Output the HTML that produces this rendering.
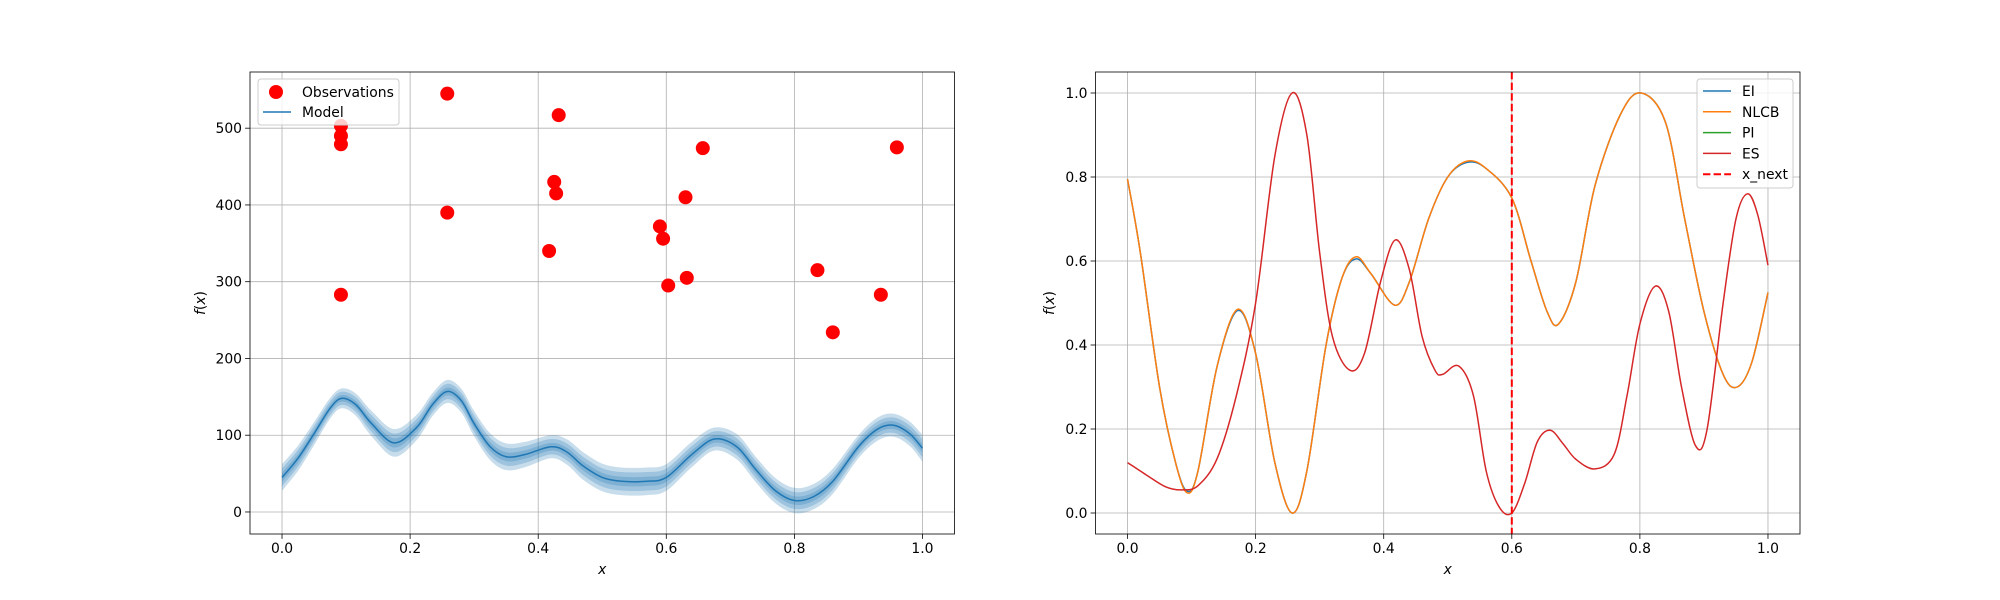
<!DOCTYPE html>
<html><head><meta charset="utf-8"><style>
html,body{margin:0;padding:0;background:#fff}
svg{display:block;font-family:"DejaVu Sans","Liberation Sans",sans-serif}
</style></head><body>
<svg id="fig" width="2000" height="600" xmlns="http://www.w3.org/2000/svg"></svg>
<script>
// Left chart data
const obsX=[0.092,0.092,0.092,0.092,0.258,0.258,0.432,0.425,0.428,0.417,0.59,0.595,0.603,0.632,0.63,0.657,0.836,0.86,0.935,0.96];
const obsY=[283,479,490,503,545,390,517,430,415,340,372,356,295,305,410,474,315,234,283,475];
const modelX=[0,0.025,0.05,0.075,0.093,0.115,0.14,0.175,0.21,0.235,0.258,0.28,0.3,0.325,0.35,0.38,0.42,0.445,0.47,0.5,0.53,0.57,0.6,0.64,0.675,0.71,0.74,0.77,0.8,0.83,0.86,0.9,0.93,0.955,0.98,1.0];
const modelMean=[45,70,102,135,148,140,115,90,110,140,157,145,115,85,72,75,85,78,60,45,40,40,45,75,95,85,55,28,15,20,40,85,108,113,102,83];
const modelStd=[5.8,5.5,5,4.5,4.3,4.8,5.5,6,5.5,5,5,5.2,5.5,5.8,5.8,5.5,5,5.5,6,6,6,6,5.8,5.5,5,5.5,5.5,5.5,5.5,5.5,5.5,5,5,5,5.3,5.8];
const leftYTicks=[0,100,200,300,400,500];
const xTicks=[0,0.2,0.4,0.6,0.8,1.0];
// Right chart data
const acqX=[0,0.02,0.05,0.075,0.093,0.11,0.14,0.172,0.2,0.23,0.257,0.28,0.31,0.335,0.357,0.38,0.417,0.44,0.47,0.5,0.531,0.56,0.6,0.63,0.655,0.673,0.7,0.73,0.77,0.802,0.84,0.87,0.9,0.93,0.952,0.975,1.0];
const nlcbY=[0.795,0.62,0.3,0.12,0.048,0.1,0.35,0.485,0.38,0.12,0.0,0.1,0.4,0.56,0.61,0.57,0.495,0.55,0.7,0.8,0.838,0.82,0.75,0.6,0.48,0.45,0.55,0.78,0.95,1.0,0.93,0.7,0.48,0.33,0.30,0.36,0.525];
const eiY=[0.795,0.62,0.3,0.12,0.052,0.1,0.35,0.482,0.38,0.12,0.0,0.1,0.4,0.56,0.605,0.57,0.495,0.55,0.7,0.8,0.835,0.82,0.75,0.6,0.48,0.45,0.55,0.78,0.95,1.0,0.93,0.7,0.48,0.33,0.30,0.36,0.525];
const piY=eiY.slice();
const esX=[0,0.03,0.06,0.085,0.11,0.14,0.17,0.2,0.23,0.257,0.28,0.3,0.32,0.347,0.37,0.395,0.418,0.44,0.46,0.48,0.492,0.517,0.54,0.56,0.58,0.6,0.62,0.64,0.66,0.68,0.7,0.73,0.76,0.78,0.8,0.824,0.845,0.865,0.887,0.905,0.93,0.95,0.968,0.984,1.0];
const esY=[0.12,0.09,0.062,0.055,0.065,0.13,0.28,0.5,0.85,1.0,0.9,0.62,0.42,0.34,0.38,0.55,0.65,0.58,0.42,0.34,0.33,0.35,0.28,0.1,0.015,0.0,0.07,0.17,0.197,0.165,0.128,0.105,0.14,0.28,0.45,0.54,0.48,0.3,0.16,0.2,0.5,0.7,0.76,0.71,0.59];
const xNext=0.6;
const rightYTicks=[0.0,0.2,0.4,0.6,0.8,1.0];

const NS="http://www.w3.org/2000/svg";
const svg=document.getElementById('fig');
function mk(tag,attrs,parent){const e=document.createElementNS(NS,tag);for(const k in attrs)e.setAttribute(k,attrs[k]);(parent||svg).appendChild(e);return e;}
function spline(xs,ys,sx,sy){
  const p=xs.map((x,i)=>[sx(x),sy(ys[i])]);let d=`M${p[0][0]},${p[0][1]}`;
  for(let i=0;i<p.length-1;i++){const p0=p[i-1]||p[i],p1=p[i],p2=p[i+1],p3=p[i+2]||p[i+1];
    const c1=[p1[0]+(p2[0]-p0[0])/6,p1[1]+(p2[1]-p0[1])/6],c2=[p2[0]-(p3[0]-p1[0])/6,p2[1]-(p3[1]-p1[1])/6];
    d+=`C${c1[0]},${c1[1]} ${c2[0]},${c2[1]} ${p2[0]},${p2[1]}`;}
  return d;}
function axesFrame(g,L,R,T,B,sx,sy,yt,fmt,name){
  xTicks.forEach(t=>{mk('line',{x1:sx(t),x2:sx(t),y1:T,y2:B,stroke:'#b0b0b0','stroke-width':0.8},g);
    mk('line',{x1:sx(t),x2:sx(t),y1:B,y2:B+4.9,stroke:'#000','stroke-width':0.8},g);
    const tx=mk('text',{x:sx(t),y:B+19,'font-size':13.9,'text-anchor':'middle'},g);tx.textContent=t.toFixed(1);
    });
  yt.forEach(t=>{mk('line',{x1:L,x2:R,y1:sy(t),y2:sy(t),stroke:'#b0b0b0','stroke-width':0.8},g);
    mk('line',{x1:L-4.9,x2:L,y1:sy(t),y2:sy(t),stroke:'#000','stroke-width':0.8},g);
    const tx=mk('text',{x:L-8,y:sy(t)+5,'font-size':13.9,'text-anchor':'end'},g);tx.textContent=fmt(t);
    });
}
function labels(g,L,R,T,B,lx,name){
  const xl=mk('text',{x:(L+R)/2,y:574,'font-size':13.9,'text-anchor':'middle','font-style':'italic'},g);xl.textContent='x';
  
  const yl=mk('text',{x:0,y:0,'font-size':13.9,'text-anchor':'middle',transform:`translate(${lx},${(T+B)/2}) rotate(-90)`},g);
  yl.innerHTML='<tspan font-style="italic">f</tspan>(<tspan font-style="italic">x</tspan>)';
  
  mk('rect',{x:L,y:T,width:R-L,height:B-T,fill:'none',stroke:'#000','stroke-width':0.8},g);
}
// LEFT
(function(){
  const L=250,R=954.5,T=72,B=534;
  const sx=x=>L+(x+0.05)/1.1*(R-L);const y0=-28.7,y1=573.2;const sy=y=>B-(y-y0)/(y1-y0)*(B-T);
  const g=mk('g',{});
  axesFrame(g,L,R,T,B,sx,sy,leftYTicks,t=>String(t),'left');
  [3,2,1].forEach(k=>{
    const up=modelMean.map((m,i)=>m+k*modelStd[i]),lo=modelMean.map((m,i)=>m-k*modelStd[i]);
    const dU=spline(modelX,up,sx,sy);const rx=modelX.slice().reverse(),rl=lo.slice().reverse();
    const dL=spline(rx,rl,sx,sy).replace('M','L');
    const b=mk('path',{d:dU+dL+'Z',fill:'#1f77b4','fill-opacity':0.25,stroke:'none'},g);
    });
  const ml=mk('path',{d:spline(modelX,modelMean,sx,sy),fill:'none',stroke:'#1f77b4','stroke-width':1.5},g);
  
  obsX.forEach((x,i)=>{const c=mk('circle',{cx:sx(x),cy:sy(obsY[i]),r:7,fill:'#ff0000'},g);
    });
  labels(g,L,R,T,B,205,'left');
  const lg=mk('g',{},g);
  mk('rect',{x:258,y:79,width:141,height:46,rx:3,fill:'#fff','fill-opacity':0.8,stroke:'#ccc'},lg);
  mk('circle',{cx:276,cy:92,r:7,fill:'#ff0000'},lg);
  let t=mk('text',{x:302,y:97,'font-size':13.9},lg);t.textContent='Observations';
  mk('line',{x1:263,x2:291,y1:112,y2:112,stroke:'#1f77b4','stroke-width':1.5},lg);
  t=mk('text',{x:302,y:117,'font-size':13.9},lg);t.textContent='Model';
})();
// RIGHT
(function(){
  const L=1095.5,R=1800,T=72,B=534;
  const sx=x=>L+(x+0.05)/1.1*(R-L);const sy=y=>B-(y+0.05)/1.1*(B-T);
  const g=mk('g',{});
  axesFrame(g,L,R,T,B,sx,sy,rightYTicks,t=>t.toFixed(1),'right');
  const series=[['ei',acqX,eiY,'#1f77b4'],['nlcb',acqX,nlcbY,'#ff7f0e'],['pi',acqX,piY,'#2ca02c'],['es',esX,esY,'#d62728']];
  const cp=mk('clipPath',{id:'rc'},g);mk('rect',{x:L,y:T,width:R-L,height:B-T},cp);
  series.forEach(s=>{if(s[0]==='pi')return;const p=mk('path',{d:spline(s[1],s[2],sx,sy),fill:'none',stroke:s[3],'stroke-width':1.5,'clip-path':'url(#rc)'},g);
    });
  const v=mk('line',{x1:sx(xNext),x2:sx(xNext),y1:T,y2:B,stroke:'#ff0000','stroke-width':2,'stroke-dasharray':'7.4,3.2'},g);
  
  labels(g,L,R,T,B,1054,'right');
  const lg=mk('g',{},g);
  mk('rect',{x:1697,y:79,width:96,height:109,rx:3,fill:'#fff','fill-opacity':0.8,stroke:'#ccc'},lg);
  const items=[['EI','#1f77b4',0],['NLCB','#ff7f0e',0],['PI','#2ca02c',0],['ES','#d62728',0],['x_next','#ff0000',1]];
  items.forEach((it,i)=>{const y=91+i*20.8;
    mk('line',{x1:1703,x2:1731,y1:y,y2:y,stroke:it[1],'stroke-width':it[2]?2:1.5,'stroke-dasharray':it[2]?'7.4,3.2':'none'},lg);
    const t=mk('text',{x:1742,y:y+5,'font-size':13.9},lg);t.textContent=it[0];
    });
})();
</script>
</body></html>
